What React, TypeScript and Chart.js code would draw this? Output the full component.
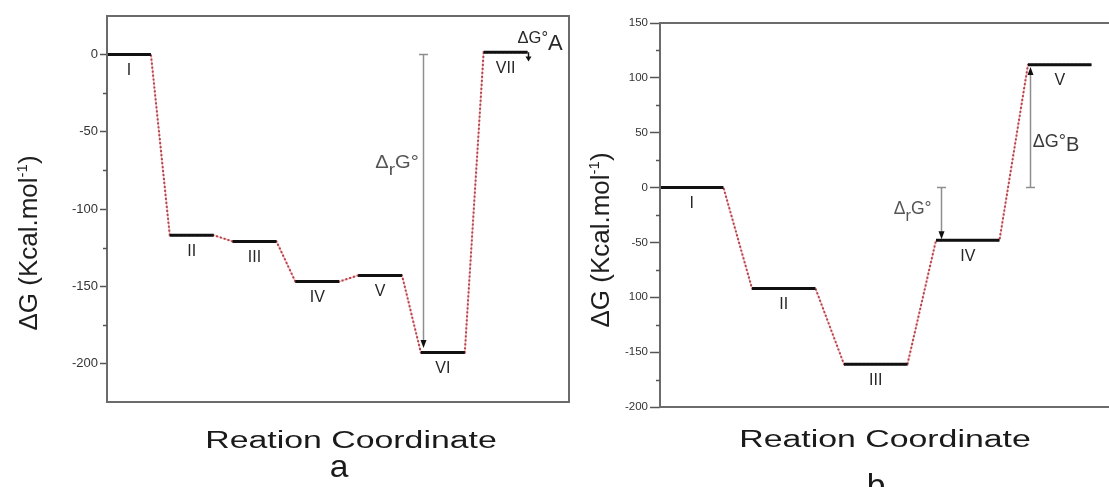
import React, { useEffect, useRef } from "react";
import { Chart, registerables } from "chart.js";

Chart.register(...registerables);

const FONT = "'Liberation Sans', Arial, Helvetica, sans-serif";

// ---------- Panel a data ----------
const statesA = ["I", "II", "III", "IV", "V", "VI", "VII"];
const energiesA = [0, -117, -121, -147, -143, -193, 1.5];
const yTicksA = [-200, -150, -100, -50, 0];
const yTickLabelsA = ["-200", "-150", "-100", "-50", "0"];
const yMinorTicksA = [-175, -125, -75, -25];
const yRangeA = [-225, 25];
const xRangeA = [0, 7.36];
const arrowXA = [5.03, 6.7];
const arrowFromA = [0, 1.5];
const arrowToA = [-190, -4.5];
const annotYA = [-73.7, 7.8];

// ---------- Panel b data ----------
const statesB = ["I", "II", "III", "IV", "V"];
const energiesB = [0, -92, -161, -48, 112];
const yTicksB = [-200, -150, -100, -50, 0, 50, 100, 150];
const yTickLabelsB = ["-200", "-150", "100", "-50", "0", "50", "100", "150"];
const yMinorTicksB = [-175, -125, -75, -25, 25, 75, 125];
const yRangeB = [-200, 150];
const xRangeB = [0, 5];
const arrowXB = [3.05, 4.02];
const arrowFromB = [0, 0];
const arrowToB = [-47, 110];
const annotYB = [-24.3, 36.7];

const xTitleText = "Reation Coordinate";
const yTitleParts = [
  { t: "\u0394G (Kcal.mol", size: 26, dy: 0 },
  { t: "-1", size: 15, dy: -10 },
  { t: ")", size: 26, dy: 0 },
];
const drGParts = (s: number) => [
  { t: "\u0394", size: s, dy: 0 },
  { t: "r", size: s - 1, dy: 7 },
  { t: "G\u00b0", size: s, dy: 0 },
];

type Part = { t: string; size: number; dy?: number };

function drawParts(
  ctx: CanvasRenderingContext2D,
  parts: Part[],
  x: number,
  y: number,
  align: "left" | "right" | "center",
  color: string,
  sx = 1
) {
  ctx.save();
  ctx.fillStyle = color;
  ctx.textBaseline = "alphabetic";
  ctx.textAlign = "left";
  const widths = parts.map((p) => {
    ctx.font = `${p.size}px ${FONT}`;
    return ctx.measureText(p.t).width;
  });
  const total = widths.reduce((a, b) => a + b, 0) * sx;
  const start = align === "right" ? x - total : align === "center" ? x - total / 2 : x;
  ctx.translate(start, y);
  ctx.scale(sx, 1);
  let cx = 0;
  parts.forEach((p, i) => {
    ctx.font = `${p.size}px ${FONT}`;
    ctx.fillText(p.t, cx, p.dy || 0);
    cx += widths[i];
  });
  ctx.restore();
}

const panelA = {
  states: statesA,
  energies: energiesA,
  levelWidth: 0.7,
  xRange: xRangeA,
  yRange: yRangeA,
  yTicks: yTicksA,
  yTickLabels: yTickLabelsA,
  yMinor: yMinorTicksA,
  arrowX: arrowXA,
  arrowFrom: arrowFromA,
  arrowTo: arrowToA,
  arrowStyle: [
    { color: "#8e8e8e", cap: true, head: 8 },
    { color: "#111111", cap: false, head: 5 },
  ],
  annots: [
    { arrow: 0, y: annotYA[0], align: "right", dx: -4, color: "#555", sx: 1.15, parts: drGParts(17.5) },
    {
      arrow: 1,
      y: annotYA[1],
      align: "left",
      dx: -10,
      color: "#2a2a2a",
      sx: 1.0,
      parts: [
        { t: "\u0394G\u00b0", size: 16.5, dy: 0 },
        { t: "A", size: 22, dy: 7 },
      ],
    },
  ],
  axisWidth: 107,
  pad: { left: 0, right: 11, top: 16, bottom: 85 },
  tickLength: 7,
  tickFont: 13,
  yTitle: { x: 37, y: 243 },
  xTitle: { x: 351, y: 448, sx: 1.44 },
  letter: { t: "a", x: 339, y: 477 },
};

const panelB = {
  states: statesB,
  energies: energiesB,
  levelWidth: 0.69,
  xRange: xRangeB,
  yRange: yRangeB,
  yTicks: yTicksB,
  yTickLabels: yTickLabelsB,
  yMinor: yMinorTicksB,
  arrowX: arrowXB,
  arrowFrom: arrowFromB,
  arrowTo: arrowToB,
  arrowStyle: [
    { color: "#8e8e8e", cap: true, head: 8 },
    { color: "#8e8e8e", cap: true, head: 8 },
  ],
  annots: [
    { arrow: 0, y: annotYB[0], align: "right", dx: -9, color: "#555", sx: 1.0, parts: drGParts(17.5) },
    {
      arrow: 1,
      y: annotYB[1],
      align: "left",
      dx: 3,
      color: "#3a3a3a",
      sx: 1.0,
      parts: [
        { t: "\u0394G\u00b0", size: 18, dy: 0 },
        { t: "B", size: 20, dy: 4 },
      ],
    },
  ],
  axisWidth: 80,
  pad: { left: 0, right: 5, top: 23, bottom: 80 },
  tickLength: 10,
  tickFont: 11.5,
  yTitle: { x: 29, y: 240 },
  xTitle: { x: 305, y: 447, sx: 1.44 },
  letter: { t: "b", x: 296, y: 496 },
};

function makeConfig(p: any): any {
  const W = p.levelWidth;
  const levelPts: any[] = [];
  const pathPts: any[] = [];
  p.energies.forEach((e: number, i: number) => {
    levelPts.push({ x: i, y: e }, { x: i + W, y: e }, { x: i + W + 0.01, y: null });
    pathPts.push({ x: i, y: e }, { x: i + W, y: e });
  });

  const overlay = {
    id: "overlay",
    afterDraw(chart: any) {
      const { ctx, chartArea: ca } = chart;
      const xs = chart.scales.x;
      const ys = chart.scales.y;
      ctx.save();
      // frame
      ctx.strokeStyle = "#6b6b6b";
      ctx.lineWidth = 2;
      ctx.strokeRect(ca.left, ca.top, ca.right - ca.left, ca.bottom - ca.top);
      // minor ticks
      ctx.strokeStyle = "#555";
      ctx.lineWidth = 1.5;
      p.yMinor.forEach((v: number) => {
        const py = Math.round(ys.getPixelForValue(v)) + 0.5;
        ctx.beginPath();
        ctx.moveTo(ca.left - 4, py);
        ctx.lineTo(ca.left, py);
        ctx.stroke();
      });
      // level labels
      ctx.fillStyle = "#262626";
      ctx.font = `16px ${FONT}`;
      ctx.textAlign = "center";
      ctx.textBaseline = "alphabetic";
      p.states.forEach((s: string, i: number) => {
        const px = xs.getPixelForValue(i + W / 2);
        const py = ys.getPixelForValue(p.energies[i]) + 20.5;
        ctx.fillText(s, px, py);
      });
      // arrows
      p.arrowX.forEach((ax: number, i: number) => {
        const st = p.arrowStyle[i];
        const px = Math.round(xs.getPixelForValue(ax)) + 0.5;
        const p0 = ys.getPixelForValue(p.arrowFrom[i]);
        const p1 = ys.getPixelForValue(p.arrowTo[i]);
        const dir = Math.sign(p1 - p0);
        ctx.strokeStyle = st.color;
        ctx.lineWidth = 1.5;
        ctx.beginPath();
        ctx.moveTo(px, p0);
        ctx.lineTo(px, p1 - dir * (st.head - 1));
        if (st.cap) {
          ctx.moveTo(px - 4.5, p0);
          ctx.lineTo(px + 4.5, p0);
        }
        ctx.stroke();
        ctx.fillStyle = "#111";
        ctx.beginPath();
        ctx.moveTo(px, p1);
        ctx.lineTo(px - 3, p1 - dir * st.head);
        ctx.lineTo(px + 3, p1 - dir * st.head);
        ctx.closePath();
        ctx.fill();
      });
      // annotations
      p.annots.forEach((a: any) => {
        const px = xs.getPixelForValue(p.arrowX[a.arrow]) + a.dx;
        const py = ys.getPixelForValue(a.y);
        drawParts(ctx, a.parts, px, py, a.align, a.color, a.sx);
      });
      // y title (rotated)
      ctx.save();
      ctx.translate(p.yTitle.x, p.yTitle.y);
      ctx.rotate(-Math.PI / 2);
      drawParts(ctx, yTitleParts, 0, 0, "center", "#1e1e1e", 1);
      ctx.restore();
      // x title
      drawParts(ctx, [{ t: xTitleText, size: 23.5 }], p.xTitle.x, p.xTitle.y, "center", "#1a1a1a", p.xTitle.sx);
      // panel letter
      drawParts(ctx, [{ t: p.letter.t, size: 32 }], p.letter.x, p.letter.y, "center", "#1a1a1a", 1.05);
      ctx.restore();
    },
  };

  return {
    type: "line",
    data: {
      datasets: [
        {
          data: levelPts,
          borderColor: "#111111",
          borderWidth: 3,
          borderCapStyle: "butt",
          pointRadius: 0,
          spanGaps: false,
          tension: 0,
        },
        {
          data: pathPts,
          borderColor: "#b5424c",
          borderWidth: 2,
          borderDash: [2, 2],
          pointRadius: 0,
          tension: 0,
        },
        {
          data: pathPts,
          borderColor: "#f6b2b2",
          borderWidth: 1.2,
          pointRadius: 0,
          tension: 0,
        },
      ],
    },
    options: {
      animation: false,
      responsive: false,
      events: [],
      layout: { padding: p.pad },
      plugins: { legend: { display: false }, tooltip: { enabled: false } },
      scales: {
        x: { type: "linear", min: p.xRange[0], max: p.xRange[1], display: false },
        y: {
          type: "linear",
          min: p.yRange[0],
          max: p.yRange[1],
          afterFit: (s: any) => {
            s.width = p.axisWidth;
          },
          afterBuildTicks: (s: any) => {
            s.ticks = p.yTicks.map((v: number) => ({ value: v }));
          },
          ticks: {
            autoSkip: false,
            padding: 2,
            color: "#333333",
            font: { family: FONT, size: p.tickFont },
            callback: (_v: any, i: number) => p.yTickLabels[i],
          },
          grid: {
            display: true,
            drawOnChartArea: false,
            drawTicks: true,
            tickLength: p.tickLength,
            tickColor: "#555",
            tickWidth: 1.5,
          },
          border: { display: false },
        },
      },
    },
    plugins: [overlay],
  };
}

export default function App() {
  const refA = useRef<HTMLCanvasElement>(null);
  const refB = useRef<HTMLCanvasElement>(null);
  useEffect(() => {
    const a = new Chart(refA.current as HTMLCanvasElement, makeConfig(panelA));
    const b = new Chart(refB.current as HTMLCanvasElement, makeConfig(panelB));
    return () => {
      a.destroy();
      b.destroy();
    };
  }, []);
  return (
    <div
      style={{
        position: "fixed",
        left: 0,
        top: 0,
        width: 1109,
        height: 487,
        overflow: "hidden",
        background: "#ffffff",
      }}
    >
      <canvas
        ref={refA}
        width={580}
        height={487}
        style={{ position: "absolute", left: 0, top: 0, width: 580, height: 487 }}
      />
      <canvas
        ref={refB}
        width={545}
        height={487}
        style={{ position: "absolute", left: 580, top: 0, width: 545, height: 487 }}
      />
    </div>
  );
}
